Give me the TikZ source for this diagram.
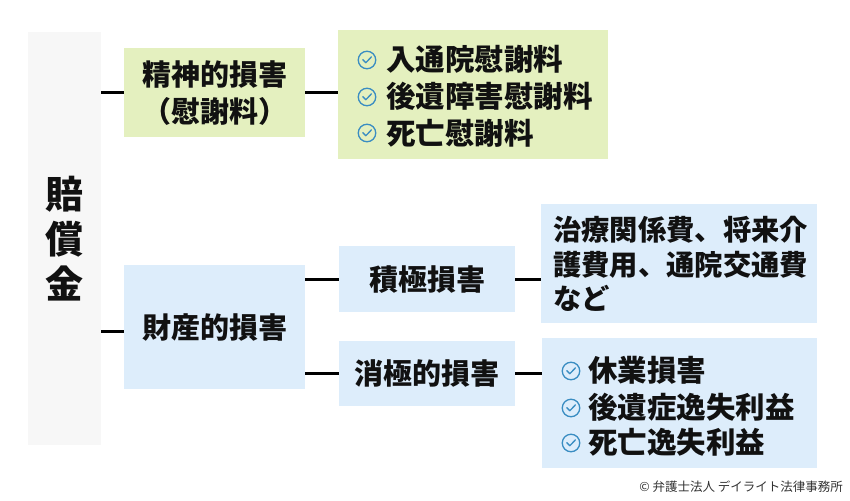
\documentclass[tikz,border=0pt]{standalone}
\usepackage{fontspec}
\newfontfamily\jp{Noto Sans CJK JP}
\definecolor{greyfill}{HTML}{F7F7F7}
\definecolor{greenfill}{HTML}{E4F0BF}
\definecolor{bluefill}{HTML}{DDEDFB}
\definecolor{chkcol}{HTML}{3A8DC2}
\definecolor{txt}{HTML}{111111}
\begin{document}
\begin{tikzpicture}[x=1pt,y=-1pt,
  basebox/.style={anchor=north west, inner sep=0pt, text=txt, align=center,
    font=\jp\bfseries\fontsize{29}{37}\selectfont},
  greybox/.style={basebox, fill=greyfill, font=\jp\bfseries\fontsize{38}{45}\selectfont},
  greenbox/.style={basebox, fill=greenfill},
  bluebox/.style={basebox, fill=bluefill},
  item/.style={anchor=west, inner sep=0pt, text=txt, font=\jp\bfseries\fontsize{29.5}{34}\selectfont},
  chk/.style={circle, draw=chkcol, line width=1.3pt, minimum size=17.5pt, inner sep=0pt,
    path picture={\draw[chkcol, line width=1.3pt, line cap=round, line join=round]
      ([xshift=-4.2pt,yshift=0.3pt]path picture bounding box.center) -- ++(3,3) -- ++(5.6,-5.8);}},
  conn/.style={draw=black, line width=2.8pt}]
\useasboundingbox (0,0) rectangle (850,500);

% root
\node[greybox, minimum width=73pt, minimum height=413pt] (root) at (28,32) {賠\\償\\金};

% mental damage
\node[greenbox, minimum width=181pt, minimum height=89pt] (seishin) at (124,48) {精神的損害\\（慰謝料）};
\node[greenbox, minimum width=270pt, minimum height=129pt] (isha) at (338,30) {};
\node[chk] (c1) at (367,60) {};
\node[item] (i1) at (386,59) {入通院慰謝料};
\node[chk] (c2) at (367,97) {};
\node[item] (i2) at (386,96) {後遺障害慰謝料};
\node[chk] (c3) at (367,133) {};
\node[item] (i3) at (386,133) {死亡慰謝料};

% property damage
\node[bluebox, minimum width=181pt, minimum height=124pt] (zaisan) at (124,265) {財産的損害};
\node[bluebox, minimum width=176pt, minimum height=66pt] (sekkyoku) at (339,246) {積極損害};
\node[bluebox, minimum width=176pt, minimum height=65pt] (shokyoku) at (339,341) {消極的損害};
\node[bluebox, minimum width=276pt, minimum height=119pt] (chiryo) at (541,204) {};
\node[item, align=left, font=\jp\bfseries\fontsize{28.3}{34.5}\selectfont] (chiryotxt) at (553,264)
  {治療関係費、将来介\\護費用、通院交通費\\など};
\node[bluebox, minimum width=275pt, minimum height=130pt] (kyugyo) at (542,338) {};
\node[chk] (c4) at (571,371) {};
\node[item] (i4) at (588,370) {休業損害};
\node[chk] (c5) at (571,408) {};
\node[item] (i5) at (588,407) {後遺症逸失利益};
\node[chk] (c6) at (571,443) {};
\node[item] (i6) at (588,442) {死亡逸失利益};

% copyright
\node[anchor=east, inner sep=0pt, text=black!80, font=\jp\fontsize{12.5}{14}\selectfont] (copy) at (843,487)
  {© 弁護士法人 デイライト法律事務所};

% connectors
\draw[conn] (root.east |- seishin.west) -- (seishin.west);
\draw[conn] (seishin.east) -- (seishin.east -| isha.west);
\draw[conn] ([yshift=-4pt]root.east |- zaisan.west) -- ([yshift=-4pt]zaisan.west);
\draw[conn] (zaisan.east |- sekkyoku.west) -- (sekkyoku.west);
\draw[conn] (zaisan.east |- shokyoku.west) -- (shokyoku.west);
\draw[conn] (sekkyoku.east) -- (sekkyoku.east -| chiryo.west);
\draw[conn] (shokyoku.east) -- (shokyoku.east -| kyugyo.west);
\end{tikzpicture}
\end{document}
